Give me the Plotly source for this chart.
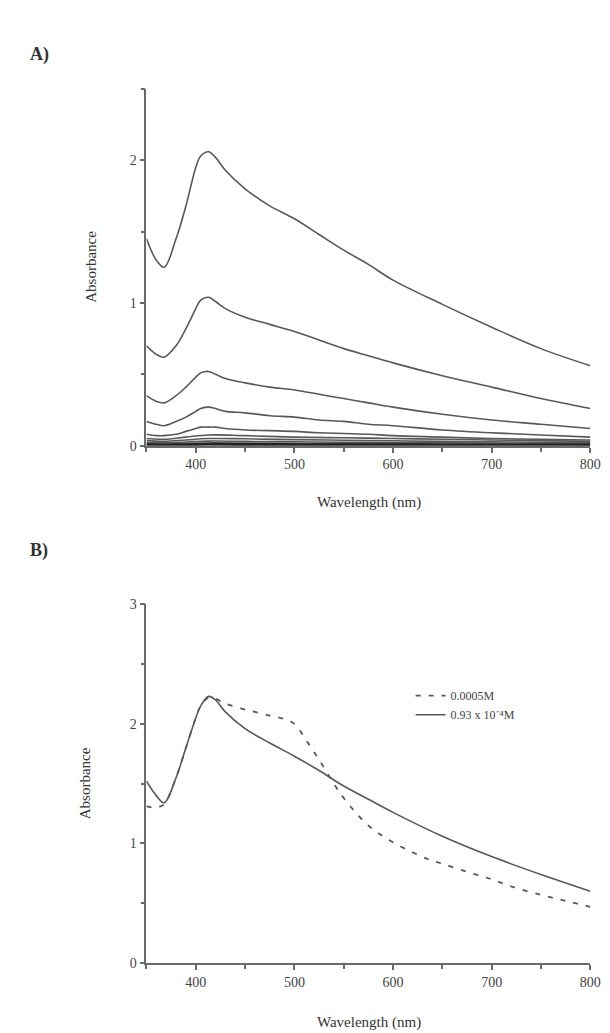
import plotly.graph_objects as go

# ---------------- Panel A data ----------------
wl_a = [350, 360, 368, 380, 390, 400, 405, 413, 420, 430, 450, 475, 500, 525, 550, 575, 600, 650, 700, 750, 800]
a1 = [1.45, 1.30, 1.25, 1.45, 1.68, 1.95, 2.03, 2.06, 2.02, 1.93, 1.80, 1.68, 1.59, 1.48, 1.37, 1.27, 1.16, 0.99, 0.83, 0.68, 0.56]
a2 = [0.70, 0.64, 0.62, 0.70, 0.82, 0.96, 1.02, 1.04, 1.01, 0.96, 0.90, 0.85, 0.80, 0.74, 0.68, 0.63, 0.58, 0.49, 0.41, 0.33, 0.26]
a3 = [0.35, 0.31, 0.30, 0.35, 0.41, 0.48, 0.51, 0.52, 0.50, 0.47, 0.44, 0.41, 0.39, 0.36, 0.33, 0.30, 0.27, 0.22, 0.18, 0.15, 0.12]
a4 = [0.17, 0.15, 0.14, 0.17, 0.20, 0.24, 0.26, 0.27, 0.26, 0.24, 0.23, 0.21, 0.20, 0.18, 0.17, 0.15, 0.14, 0.11, 0.09, 0.075, 0.06]
a5 = [0.08, 0.07, 0.07, 0.08, 0.10, 0.12, 0.13, 0.13, 0.13, 0.12, 0.11, 0.105, 0.10, 0.09, 0.085, 0.08, 0.07, 0.06, 0.05, 0.045, 0.04]

wl_s = [350, 368, 390, 413, 450, 500, 550, 600, 650, 700, 750, 800]
a6 = [0.050, 0.045, 0.060, 0.075, 0.070, 0.060, 0.055, 0.050, 0.045, 0.040, 0.035, 0.030]
a7 = [0.035, 0.030, 0.040, 0.050, 0.048, 0.042, 0.038, 0.034, 0.030, 0.027, 0.024, 0.022]
a8 = [0.022, 0.020, 0.026, 0.032, 0.030, 0.027, 0.024, 0.022, 0.020, 0.018, 0.016, 0.015]
a9 = [0.013, 0.012, 0.015, 0.019, 0.018, 0.016, 0.014, 0.013, 0.012, 0.011, 0.010, 0.009]
a10 = [0.006, 0.005, 0.007, 0.009, 0.008, 0.007, 0.006, 0.006, 0.005, 0.005, 0.004, 0.004]

# ---------------- Panel B data ----------------
wl_b_solid = [350, 360, 368, 380, 390, 400, 405, 413, 420, 430, 450, 475, 500, 525, 550, 575, 600, 650, 700, 750, 800]
b_solid = [1.52, 1.40, 1.34, 1.55, 1.80, 2.05, 2.15, 2.23, 2.20, 2.10, 1.96, 1.84, 1.73, 1.61, 1.48, 1.37, 1.26, 1.06, 0.89, 0.74, 0.60]
wl_b_dash = [350, 360, 368, 380, 390, 400, 405, 413, 420, 430, 450, 475, 490, 500, 513, 525, 540, 550, 575, 600, 635, 650, 676, 700, 720, 750, 775, 800]
b_dash = [1.31, 1.30, 1.33, 1.55, 1.80, 2.05, 2.15, 2.22, 2.21, 2.17, 2.12, 2.07, 2.04, 2.00, 1.85, 1.70, 1.50, 1.38, 1.15, 1.01, 0.87, 0.83, 0.76, 0.70, 0.64, 0.57, 0.52, 0.47]
label_dash = "0.0005M"
label_solid = "0.93 x 10\u207b\u2074M"

x_ticks = [400, 500, 600, 700, 800]

W, H = 610, 1033
FONT = "Liberation Serif"
LC = "#585858"

fig = go.Figure()

series_a = [(wl_a, a1), (wl_a, a2), (wl_a, a3), (wl_a, a4), (wl_a, a5),
            (wl_s, a6), (wl_s, a7), (wl_s, a8), (wl_s, a9)]
for xs, ys in series_a:
    fig.add_trace(go.Scatter(x=xs, y=ys, mode="lines", line=dict(color=LC, width=1.6, shape="spline"),
                             showlegend=False, xaxis="x", yaxis="y"))
fig.add_trace(go.Scatter(x=wl_s, y=a10, mode="lines", line=dict(color="#222222", width=3, shape="spline"),
                         showlegend=False, xaxis="x", yaxis="y"))

fig.add_trace(go.Scatter(x=wl_b_dash, y=b_dash, mode="lines", name=label_dash,
                         line=dict(color=LC, width=1.8, dash="5px,8px", shape="spline"),
                         xaxis="x2", yaxis="y2"))
fig.add_trace(go.Scatter(x=wl_b_solid, y=b_solid, mode="lines", name=label_solid,
                         line=dict(color=LC, width=1.6, shape="spline"),
                         xaxis="x2", yaxis="y2"))

def px_x(p):
    return p / W

def px_y(p):
    return 1 - p / H

axis_common = dict(showline=True, linecolor="#6a6a6a", linewidth=1.8, showgrid=False, zeroline=False,
                   ticks="outside", ticklen=5, tickwidth=1.5, tickcolor="#6a6a6a",
                   tickfont=dict(family=FONT, size=14, color="#444"))

xdom = [px_x(141), px_x(593)]
fig.update_layout(
    width=W, height=H,
    margin=dict(l=0, r=0, t=0, b=0),
    paper_bgcolor="white", plot_bgcolor="white",
    xaxis=dict(domain=xdom, range=[350, 800], tickvals=x_ticks, anchor="y",
               minor=dict(dtick=50, tick0=350, ticks="outside", ticklen=4, tickcolor="#6a6a6a"), **axis_common),
    yaxis=dict(domain=[px_y(437), px_y(75)], range=[0, 2.5], dtick=1, anchor="x",
               minor=dict(dtick=0.5, ticks="outside", ticklen=4, tickcolor="#6a6a6a"), **axis_common),
    xaxis2=dict(domain=xdom, range=[350, 800], tickvals=x_ticks, anchor="y2",
                minor=dict(dtick=50, tick0=350, ticks="outside", ticklen=4, tickcolor="#6a6a6a"), **axis_common),
    yaxis2=dict(domain=[px_y(962), px_y(598)], range=[0, 3], dtick=1, anchor="x2",
                minor=dict(dtick=0.5, ticks="outside", ticklen=4, tickcolor="#6a6a6a"), **axis_common),
    legend=dict(x=px_x(410), y=px_y(676), xanchor="left", yanchor="top",
                font=dict(family=FONT, size=12, color="#444"), bgcolor="rgba(0,0,0,0)",
                tracegroupgap=2),
    showlegend=True,
)

ann = [
    dict(text="<b>A)</b>", x=px_x(20), y=px_y(40), xanchor="left", yanchor="middle", font=dict(size=18)),
    dict(text="<b>B)</b>", x=px_x(20), y=px_y(543), xanchor="left", yanchor="middle", font=dict(size=18)),
    dict(text="Absorbance", x=px_x(85), y=px_y(255), textangle=-90, xanchor="center", yanchor="middle", font=dict(size=15)),
    dict(text="Absorbance", x=px_x(78), y=px_y(780), textangle=-90, xanchor="center", yanchor="middle", font=dict(size=15)),
    dict(text="Wavelength (nm)", x=px_x(368), y=px_y(495), xanchor="center", yanchor="middle", font=dict(size=15)),
    dict(text="Wavelength (nm)", x=px_x(368), y=px_y(1022), xanchor="center", yanchor="middle", font=dict(size=15)),
]
for a in ann:
    a["font"].update(family=FONT, color="#333")
    fig.add_annotation(xref="paper", yref="paper", showarrow=False, **a)

fig.write_html("out.html")
